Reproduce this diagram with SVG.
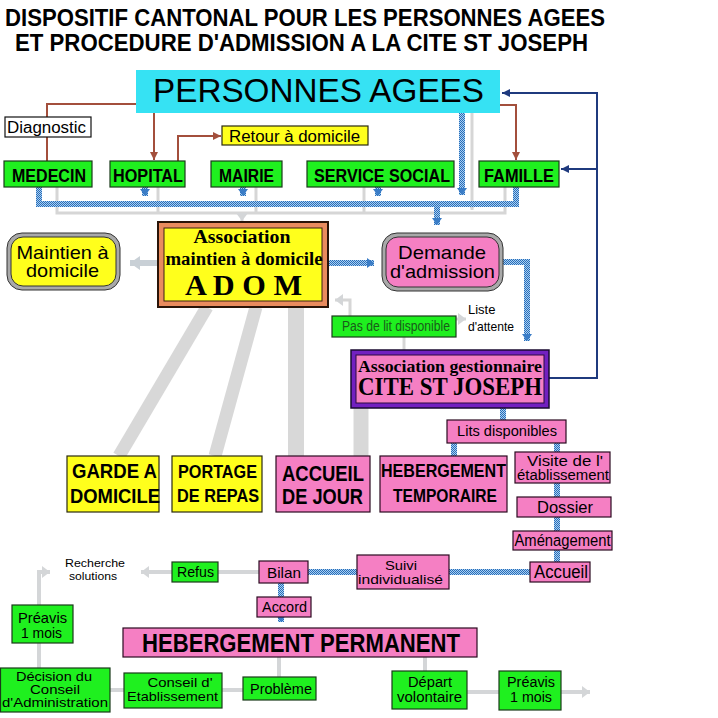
<svg xmlns="http://www.w3.org/2000/svg" width="718" height="718" viewBox="0 0 718 718">
<style>
text{font-family:"Liberation Sans",Arial,sans-serif;fill:#000}
.b{font-weight:bold}
.serif{font-family:"Liberation Serif","Times New Roman",serif;font-weight:bold}
.g{fill:#1ff01f;stroke:#1a3a1a;stroke-width:1.2}
.p{fill:#f57fc3;stroke:#2a0a20;stroke-width:1.2}
.y{fill:#ffff1c;stroke:#2a2a10;stroke-width:1.2}
.gl{fill:none;stroke:#d6d6d6;stroke-width:3}
.gt{fill:none;stroke:#d4d6d8;stroke-width:4}
.hb{fill:none;stroke:url(#chk);stroke-width:6}
.br{fill:none;stroke:#a34f3c;stroke-width:2}
.nv{fill:none;stroke:#1f3a7e;stroke-width:2}
</style>
<defs>
<pattern id="chk" patternUnits="userSpaceOnUse" width="2" height="2">
<rect width="2" height="2" fill="#a8d0f2"/>
<rect width="1" height="1" fill="#2a6cb8"/>
<rect x="1" y="1" width="1" height="1" fill="#2a6cb8"/>
</pattern>
<marker id="ab" markerUnits="userSpaceOnUse" markerWidth="12" markerHeight="10" refX="7" refY="5" orient="auto"><path d="M0,0 L7,5 L0,10 Z" fill="#3a7cc6"/></marker>
<marker id="abr" markerUnits="userSpaceOnUse" markerWidth="10" markerHeight="10" refX="8" refY="4" orient="auto"><path d="M0,0 L8,4 L0,8 Z" fill="#a34f3c"/></marker>
<marker id="anv" markerUnits="userSpaceOnUse" markerWidth="10" markerHeight="10" refX="8" refY="4" orient="auto"><path d="M0,0 L8,4 L0,8 Z" fill="#1f3a7e"/></marker>
<marker id="agr" markerUnits="userSpaceOnUse" markerWidth="12" markerHeight="12" refX="8" refY="6" orient="auto"><path d="M0,0 L8,6 L0,12 Z" fill="#d4d6d8"/></marker>
<marker id="agr2" markerUnits="userSpaceOnUse" markerWidth="14" markerHeight="16" refX="10" refY="7" orient="auto"><path d="M0,0 L10,7 L0,14 Z" fill="#c9d0d6"/></marker>
</defs>
<rect width="718" height="718" fill="#fff"/>

<g id="title">
<text class="b" x="305" y="26" font-size="24" text-anchor="middle" textLength="600" lengthAdjust="spacingAndGlyphs">DISPOSITIF CANTONAL POUR LES PERSONNES AGEES</text>
<text class="b" x="301.5" y="51" font-size="24" text-anchor="middle" textLength="573" lengthAdjust="spacingAndGlyphs">ET PROCEDURE D'ADMISSION A LA CITE ST JOSEPH</text>
</g>

<g id="connectors">
<line x1="207" y1="307" x2="119" y2="456" stroke="#d8d8d8" stroke-width="13"/>
<line x1="256" y1="307" x2="215" y2="456" stroke="#d8d8d8" stroke-width="13"/>
<line x1="296" y1="307" x2="296" y2="456" stroke="#d8d8d8" stroke-width="16"/>
<line x1="361" y1="408" x2="361" y2="456" stroke="#d8d8d8" stroke-width="15"/>
<polyline class="gl" points="57,187 57,213 505,213 505,187"/>
<line class="gl" x1="158" y1="187" x2="158" y2="213"/>
<line class="gl" x1="256" y1="187" x2="256" y2="213"/>
<line class="gl" x1="364" y1="187" x2="364" y2="213"/>
<line class="gl" x1="472" y1="113" x2="472" y2="210" marker-end="url(#agr)"/>
<line class="gl" x1="242" y1="213" x2="242" y2="221" marker-end="url(#agr)"/>
<polyline class="hb" points="39,187 39,204 516,204 516,187"/>
<line class="hb" x1="145" y1="187" x2="145" y2="196" marker-end="url(#ab)"/>
<line class="hb" x1="243" y1="187" x2="243" y2="196" marker-end="url(#ab)"/>
<line class="hb" x1="378" y1="187" x2="378" y2="196" marker-end="url(#ab)"/>
<line class="hb" x1="462" y1="113" x2="462" y2="195" marker-end="url(#ab)"/>
<line class="hb" x1="437" y1="204" x2="437" y2="225" marker-end="url(#ab)"/>
<polyline class="br" points="136,104 47,104 47,161"/>
<line class="br" x1="154" y1="113" x2="154" y2="160" marker-end="url(#abr)"/>
<polyline class="br" points="178,161 178,136 221,136" marker-end="url(#abr)"/>
<polyline class="br" points="500,105 516,105 516,160" marker-end="url(#abr)"/>
<polyline class="nv" points="549,378 597,378 597,93 502,93" marker-end="url(#anv)"/>
<line class="nv" x1="597" y1="169" x2="561" y2="169" marker-end="url(#anv)"/>
<line x1="158" y1="263" x2="130" y2="263" stroke="#c9d0d6" stroke-width="6" marker-end="url(#agr2)"/>
<line class="hb" x1="328" y1="263" x2="374" y2="263" marker-end="url(#ab)"/>
<polyline class="hb" points="503,262 527,262 527,341" marker-end="url(#ab)"/>
<polyline class="gl" points="350,316 350,300 335,300" marker-end="url(#agr)"/>
<line class="gl" x1="404" y1="337" x2="404" y2="350"/>
<line class="gl" x1="456" y1="319" x2="466" y2="319" marker-end="url(#agr)"/>
<line class="hb" x1="503" y1="408" x2="503" y2="420" stroke-width="5"/>
<line class="hb" x1="454" y1="443" x2="454" y2="456" stroke-width="5"/>
<line class="hb" x1="557" y1="443" x2="557" y2="452" stroke-width="5"/>
<line class="hb" x1="557" y1="483" x2="557" y2="562" stroke-width="5"/>
<line class="hb" x1="530" y1="572" x2="449" y2="572" stroke-width="5"/>
<line class="hb" x1="357" y1="572" x2="308" y2="572" stroke-width="5"/>
<line class="hb" x1="281" y1="583" x2="281" y2="597" stroke-width="5"/>
<line class="hb" x1="281" y1="617" x2="281" y2="622" stroke-width="5" marker-end="url(#ab)"/>
<line class="gt" x1="259" y1="572" x2="218" y2="572"/>
<line class="gt" x1="172" y1="572" x2="141" y2="572" marker-end="url(#agr)"/>
<polyline class="gt" points="39,668 39,572 50,572" marker-end="url(#agr)"/>
<line class="gt" x1="110" y1="690" x2="124" y2="690"/>
<line class="gt" x1="222" y1="690" x2="243" y2="690"/>
<line class="gt" x1="279" y1="657" x2="279" y2="677"/>
<line class="gt" x1="425" y1="657" x2="425" y2="671"/>
<line class="gt" x1="467" y1="692" x2="499" y2="692"/>
<line class="gt" x1="561" y1="692" x2="590" y2="692" marker-end="url(#agr)"/>
</g>

<g id="personnes">
<rect x="136" y="70" width="364" height="43" fill="#36e2f3"/>
<text x="318.5" y="102" font-size="33" text-anchor="middle" textLength="331" lengthAdjust="spacingAndGlyphs">PERSONNES AGEES</text>
</g>
<g id="diagnostic">
<rect x="5" y="117" width="86" height="20" fill="#fff" stroke="#111" stroke-width="1.2"/>
<text x="46.5" y="133" font-size="16" text-anchor="middle" textLength="79" lengthAdjust="spacingAndGlyphs">Diagnostic</text>
</g>
<g id="retour">
<rect class="y" x="222" y="126" width="146" height="19"/>
<text x="294.5" y="142" font-size="16" text-anchor="middle" textLength="131" lengthAdjust="spacingAndGlyphs">Retour à domicile</text>
</g>
<g id="medecin">
<rect class="g" x="4" y="161" width="88" height="26"/>
<text class="b" x="49" y="182" font-size="19" text-anchor="middle" textLength="74" lengthAdjust="spacingAndGlyphs">MEDECIN</text>
</g>
<g id="hopital">
<rect class="g" x="110" y="161" width="75" height="26"/>
<text class="b" x="148" y="182" font-size="19" text-anchor="middle" textLength="70" lengthAdjust="spacingAndGlyphs">HOPITAL</text>
</g>
<g id="mairie">
<rect class="g" x="211" y="161" width="71" height="26"/>
<text class="b" x="246.5" y="182" font-size="19" text-anchor="middle" textLength="55" lengthAdjust="spacingAndGlyphs">MAIRIE</text>
</g>
<g id="service-social">
<rect class="g" x="307" y="161" width="147" height="26"/>
<text class="b" x="382" y="182" font-size="19" text-anchor="middle" textLength="136" lengthAdjust="spacingAndGlyphs">SERVICE SOCIAL</text>
</g>
<g id="famille">
<rect class="g" x="479" y="161" width="80" height="26"/>
<text class="b" x="519" y="182" font-size="19" text-anchor="middle" textLength="70" lengthAdjust="spacingAndGlyphs">FAMILLE</text>
</g>

<g id="maintien">
<rect x="7" y="233" width="113" height="57" rx="15" fill="#a9a9a9" stroke="#333" stroke-width="1"/>
<rect x="11" y="237" width="105" height="49" rx="12" fill="#ffff1c" stroke="#333" stroke-width="1"/>
<text x="62.5" y="259" font-size="19" text-anchor="middle" textLength="92" lengthAdjust="spacingAndGlyphs">Maintien à</text>
<text x="62.5" y="277" font-size="19" text-anchor="middle" textLength="73" lengthAdjust="spacingAndGlyphs">domicile</text>
</g>
<g id="adom">
<rect x="158" y="222" width="170" height="85" fill="#e98b5e" stroke="#2a1408" stroke-width="2"/>
<rect x="164" y="228" width="158" height="73" fill="#ffff1c" stroke="#3a2010" stroke-width="1"/>
<text class="serif" x="242" y="243" font-size="18" text-anchor="middle" textLength="97" lengthAdjust="spacingAndGlyphs">Association</text>
<text class="serif" x="244" y="265" font-size="18" text-anchor="middle" textLength="157" lengthAdjust="spacingAndGlyphs">maintien à domicile</text>
<text class="serif" x="243.5" y="295" font-size="29" text-anchor="middle" textLength="117" lengthAdjust="spacingAndGlyphs">A D O M</text>
</g>
<g id="demande">
<rect x="382" y="233" width="121" height="58" rx="15" fill="#a9a9a9" stroke="#333" stroke-width="1"/>
<rect x="386" y="237" width="113" height="50" rx="12" fill="#f57fc3" stroke="#333" stroke-width="1"/>
<text x="442" y="259" font-size="19" text-anchor="middle" textLength="88" lengthAdjust="spacingAndGlyphs">Demande</text>
<text x="442.5" y="278" font-size="19" text-anchor="middle" textLength="105" lengthAdjust="spacingAndGlyphs">d'admission</text>
</g>
<g id="pas-de-lit">
<rect class="g" x="332" y="316" width="124" height="21"/>
<text x="396" y="331" font-size="14" text-anchor="middle" textLength="108" lengthAdjust="spacingAndGlyphs" style="fill:#1a5a1a">Pas de lit disponible</text>
</g>
<g id="liste-attente">
<text x="468" y="314" font-size="13">Liste</text>
<text x="468" y="331" font-size="13" textLength="46" lengthAdjust="spacingAndGlyphs">d'attente</text>
</g>
<g id="cite">
<rect x="351" y="350" width="198" height="58" fill="#7220c0" stroke="#1a0a30" stroke-width="1.5"/>
<rect x="356" y="355" width="188" height="48" fill="#f57fc3" stroke="#2a0a40" stroke-width="1"/>
<text class="serif" x="450" y="372" font-size="17" text-anchor="middle" textLength="184" lengthAdjust="spacingAndGlyphs">Association gestionnaire</text>
<text class="serif" x="450" y="395" font-size="26" text-anchor="middle" textLength="184" lengthAdjust="spacingAndGlyphs">CITE ST JOSEPH</text>
</g>

<g id="lits">
<rect class="p" x="447" y="420" width="119" height="23"/>
<text x="507" y="436" font-size="15" text-anchor="middle" textLength="100" lengthAdjust="spacingAndGlyphs">Lits disponibles</text>
</g>
<g id="garde">
<rect class="y" x="67" y="456" width="92" height="56"/>
<text class="b" x="114.5" y="478" font-size="21" text-anchor="middle" textLength="85" lengthAdjust="spacingAndGlyphs">GARDE A</text>
<text class="b" x="115" y="503" font-size="21" text-anchor="middle" textLength="90" lengthAdjust="spacingAndGlyphs">DOMICILE</text>
</g>
<g id="portage">
<rect class="y" x="172" y="456" width="90" height="56"/>
<text class="b" x="217.5" y="478" font-size="19" text-anchor="middle" textLength="79" lengthAdjust="spacingAndGlyphs">PORTAGE</text>
<text class="b" x="218" y="502" font-size="19" text-anchor="middle" textLength="82" lengthAdjust="spacingAndGlyphs">DE REPAS</text>
</g>
<g id="accueil-jour">
<rect class="p" x="276" y="456" width="94" height="56"/>
<text class="b" x="323" y="481" font-size="22" text-anchor="middle" textLength="82" lengthAdjust="spacingAndGlyphs">ACCUEIL</text>
<text class="b" x="322.5" y="504" font-size="22" text-anchor="middle" textLength="81" lengthAdjust="spacingAndGlyphs">DE JOUR</text>
</g>
<g id="heb-temp">
<rect class="p" x="380" y="456" width="127" height="56"/>
<text class="b" x="443.5" y="477" font-size="19" text-anchor="middle" textLength="125" lengthAdjust="spacingAndGlyphs">HEBERGEMENT</text>
<text class="b" x="445" y="502" font-size="19" text-anchor="middle" textLength="104" lengthAdjust="spacingAndGlyphs">TEMPORAIRE</text>
</g>
<g id="visite">
<rect class="p" x="515" y="452" width="95" height="31"/>
<text x="565" y="466" font-size="14" text-anchor="middle" textLength="76" lengthAdjust="spacingAndGlyphs">Visite de l'</text>
<text x="563" y="480" font-size="14" text-anchor="middle" textLength="92" lengthAdjust="spacingAndGlyphs">établissement</text>
</g>
<g id="dossier">
<rect class="p" x="517" y="497" width="94" height="20"/>
<text x="565" y="513" font-size="17" text-anchor="middle" textLength="56" lengthAdjust="spacingAndGlyphs">Dossier</text>
</g>
<g id="amenagement">
<rect class="p" x="513" y="531" width="99" height="19"/>
<text x="562.5" y="546" font-size="16" text-anchor="middle" textLength="96" lengthAdjust="spacingAndGlyphs">Aménagement</text>
</g>
<g id="accueil">
<rect class="p" x="530" y="562" width="60" height="20"/>
<text x="561" y="578" font-size="18" text-anchor="middle" textLength="54" lengthAdjust="spacingAndGlyphs">Accueil</text>
</g>
<g id="suivi">
<rect class="p" x="357" y="555" width="92" height="34"/>
<text x="401" y="570" font-size="13" text-anchor="middle" textLength="32" lengthAdjust="spacingAndGlyphs">Suivi</text>
<text x="400.5" y="584" font-size="13" text-anchor="middle" textLength="85" lengthAdjust="spacingAndGlyphs">individualisé</text>
</g>
<g id="bilan">
<rect class="p" x="259" y="561" width="49" height="22"/>
<text x="284" y="578" font-size="15" text-anchor="middle" textLength="34" lengthAdjust="spacingAndGlyphs">Bilan</text>
</g>
<g id="accord">
<rect class="p" x="257" y="597" width="54" height="20"/>
<text x="284.5" y="612" font-size="15" text-anchor="middle" textLength="45" lengthAdjust="spacingAndGlyphs">Accord</text>
</g>
<g id="refus">
<rect class="g" x="172" y="562" width="46" height="20"/>
<text x="195.5" y="577" font-size="15" text-anchor="middle" textLength="37" lengthAdjust="spacingAndGlyphs">Refus</text>
</g>
<g id="recherche">
<text x="95" y="567" font-size="11.5" text-anchor="middle" textLength="60" lengthAdjust="spacingAndGlyphs">Recherche</text>
<text x="93" y="580" font-size="11.5" text-anchor="middle" textLength="48" lengthAdjust="spacingAndGlyphs">solutions</text>
</g>
<g id="heb-perm">
<rect class="p" x="123" y="628" width="354" height="29"/>
<text class="b" x="301" y="652" font-size="25" text-anchor="middle" textLength="318" lengthAdjust="spacingAndGlyphs">HEBERGEMENT PERMANENT</text>
</g>
<g id="preavis-gauche">
<rect class="g" x="12" y="605" width="61" height="38"/>
<text x="42.5" y="623" font-size="15" text-anchor="middle" textLength="49" lengthAdjust="spacingAndGlyphs">Préavis</text>
<text x="41.5" y="638" font-size="15" text-anchor="middle" textLength="41" lengthAdjust="spacingAndGlyphs">1 mois</text>
</g>
<g id="decision">
<rect class="g" x="0.5" y="668" width="109.5" height="44"/>
<text x="54" y="681" font-size="13.5" text-anchor="middle" textLength="76" lengthAdjust="spacingAndGlyphs">Décision du</text>
<text x="55" y="694" font-size="13.5" text-anchor="middle" textLength="50" lengthAdjust="spacingAndGlyphs">Conseil</text>
<text x="55" y="707" font-size="13.5" text-anchor="middle" textLength="106" lengthAdjust="spacingAndGlyphs">d'Administration</text>
</g>
<g id="conseil-etab">
<rect class="g" x="124" y="673" width="98" height="35"/>
<text x="180" y="687" font-size="13.5" text-anchor="middle" textLength="65" lengthAdjust="spacingAndGlyphs">Conseil d'</text>
<text x="172.5" y="701" font-size="13.5" text-anchor="middle" textLength="91" lengthAdjust="spacingAndGlyphs">Etablissement</text>
</g>
<g id="probleme">
<rect class="g" x="243" y="677" width="73" height="23"/>
<text x="281" y="694" font-size="15" text-anchor="middle" textLength="62" lengthAdjust="spacingAndGlyphs">Problème</text>
</g>
<g id="depart">
<rect class="g" x="392" y="671" width="75" height="38"/>
<text x="430" y="687" font-size="14" text-anchor="middle" textLength="44" lengthAdjust="spacingAndGlyphs">Départ</text>
<text x="429.5" y="702" font-size="14" text-anchor="middle" textLength="65" lengthAdjust="spacingAndGlyphs">volontaire</text>
</g>
<g id="preavis-droite">
<rect class="g" x="499" y="671" width="62" height="39"/>
<text x="531" y="687" font-size="14" text-anchor="middle" textLength="48" lengthAdjust="spacingAndGlyphs">Préavis</text>
<text x="531" y="702" font-size="14" text-anchor="middle" textLength="42" lengthAdjust="spacingAndGlyphs">1 mois</text>
</g>
</svg>
